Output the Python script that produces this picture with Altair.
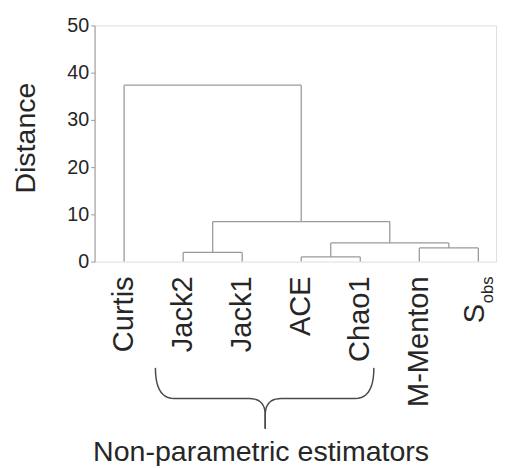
import altair as alt
import pandas as pd
import numpy as np

# ---- data ----
leaves = ["Curtis", "Jack2", "Jack1", "ACE", "Chao1", "M-Menton", "S"]
leaf_sub = ["", "", "", "", "", "", "obs"]
# merges: nodes 0-6 are leaves, merge k creates node 7+k
merge_left = [1, 3, 5, 8, 7, 0]
merge_right = [2, 4, 6, 9, 10, 11]
merge_height = [1.95, 0.98, 2.9, 3.96, 8.48, 37.35]
y_ticks = [0, 10, 20, 30, 40, 50]

# brace annotation (in leaf-index / distance units)
brace_left, brace_right, brace_mid = 0.53, 4.23, 2.39
brace_top, brace_bar, brace_cusp, brace_tip = -22.5, -29.0, -32.5, -35.4
brace_outer_r, brace_inner_r = 0.32, 0.27
group_label = "Non-parametric estimators"
group_label_x, group_label_y = 2.32, -42.3

# ---- build dendrogram segments ----
pos = list(range(len(leaves)))
hgt = [0.0] * len(leaves)
segs = []
for l, r, h in zip(merge_left, merge_right, merge_height):
    segs.append(dict(x=pos[l], x2=pos[l], y=hgt[l], y2=h))
    segs.append(dict(x=pos[r], x2=pos[r], y=hgt[r], y2=h))
    segs.append(dict(x=pos[l], x2=pos[r], y=h, y2=h))
    pos.append((pos[l] + pos[r]) / 2)
    hgt.append(h)
seg_df = pd.DataFrame(segs)

# ---- brace path ----
def quad(p0, c, p1, n=12):
    t = np.linspace(0, 1, n)
    xs = (1 - t) ** 2 * p0[0] + 2 * (1 - t) * t * c[0] + t ** 2 * p1[0]
    ys = (1 - t) ** 2 * p0[1] + 2 * (1 - t) * t * c[1] + t ** 2 * p1[1]
    return list(zip(xs, ys))

rows = []
for side, end, sgn in [("L", brace_left, 1), ("R", brace_right, -1)]:
    pts = []
    pts += quad((end, brace_top), (end, brace_bar), (end + sgn * brace_outer_r, brace_bar))
    pts += quad((brace_mid - sgn * brace_inner_r, brace_bar), (brace_mid, brace_bar),
                (brace_mid, brace_cusp))
    pts.append((brace_mid, brace_tip))
    for i, (px, py) in enumerate(pts):
        rows.append(dict(side=side, o=i, x=px, y=py))
brace_df = pd.DataFrame(rows)

lab_df = pd.DataFrame(dict(leaf=leaves, sub=leaf_sub, pos=list(range(len(leaves))), base=0))

xscale = alt.Scale(domain=[-0.5, 6.3], nice=False, zero=False)
yscale = alt.Scale(domain=[0, 50], nice=False)
line_col = "#9a9a9a"
txt_col = "#262626"

dendro = alt.Chart(seg_df).mark_rule(color=line_col, strokeWidth=1.3).encode(
    x=alt.X("x:Q", scale=xscale, axis=None),
    x2="x2:Q",
    y=alt.Y("y:Q", scale=yscale, axis=alt.Axis(
        values=y_ticks, title="Distance", grid=False,
        domainColor=line_col, tickColor=line_col, tickSize=4,
        labelFontSize=20, labelColor=txt_col, labelPadding=2,
        titleFontSize=29, titleFontWeight="normal", titleColor=txt_col,
        titleAngle=270, titleAlign="center", titleBaseline="alphabetic",
        titleX=-61, titleY=114)),
    y2="y2:Q",
)

main_labels = alt.Chart(lab_df).transform_filter("datum.sub == ''").mark_text(
    angle=270, align="right", baseline="middle", fontSize=29.5, color=txt_col, dx=-15
).encode(x=alt.X("pos:Q", scale=xscale), y=alt.Y("base:Q", scale=yscale), text="leaf:N")

s_label = alt.Chart(lab_df).transform_filter("datum.sub != ''").mark_text(
    angle=270, align="right", baseline="alphabetic", fontSize=29.5, color=txt_col, dx=-43, dy=6
).encode(x=alt.X("pos:Q", scale=xscale), y=alt.Y("base:Q", scale=yscale), text="leaf:N")

sub_label = alt.Chart(lab_df).transform_filter("datum.sub != ''").mark_text(
    angle=270, align="right", baseline="alphabetic", fontSize=17, color=txt_col, dx=-15, dy=15
).encode(x=alt.X("pos:Q", scale=xscale), y=alt.Y("base:Q", scale=yscale), text="sub:N")

brace = alt.Chart(brace_df).mark_line(color="#4a4a4a", strokeWidth=1.5).encode(
    x=alt.X("x:Q", scale=xscale), y=alt.Y("y:Q", scale=yscale),
    detail="side:N", order="o:Q")

glabel = alt.Chart(pd.DataFrame(dict(t=[group_label], x=[group_label_x], y=[group_label_y]))).mark_text(
    align="center", baseline="alphabetic", fontSize=29, color=txt_col
).encode(x=alt.X("x:Q", scale=xscale), y=alt.Y("y:Q", scale=yscale), text="t:N")

chart = alt.layer(dendro, main_labels, s_label, sub_label, brace, glabel).properties(
    width=408, height=240,
    autosize=alt.AutoSizeParams(type="none"),
    padding={"left": 88, "top": 14, "right": 4, "bottom": 204},
).configure_view(stroke=None).configure(
    font="Liberation Sans, Arial, Helvetica, sans-serif", background="white")

chart.save("out.html", embed_options={"renderer": "svg", "actions": False})
